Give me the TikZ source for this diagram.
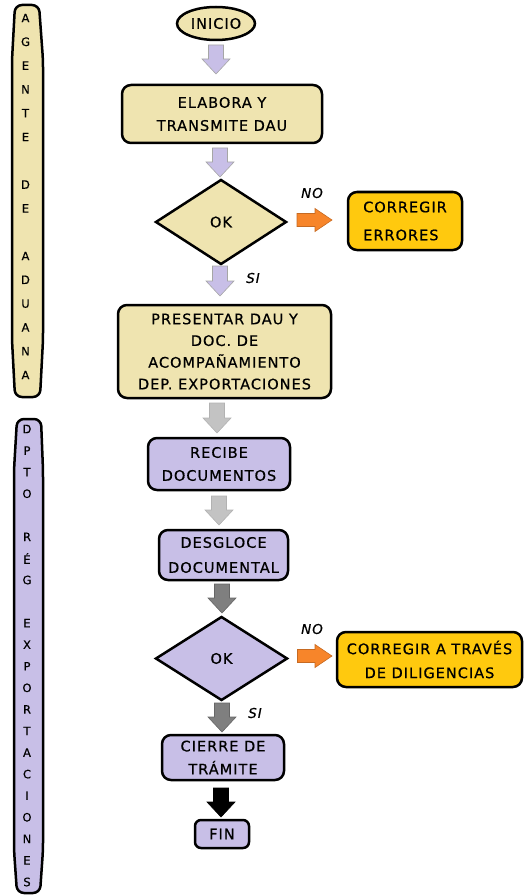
\documentclass[tikz,border=0pt]{standalone}
\usepackage{fontspec}
\setmainfont{DejaVu Sans}[LetterSpace=7, FakeBold=0.6]
\newfontfamily\lanefont{DejaVu Sans}[FakeBold=0.5]
\usetikzlibrary{shapes.geometric,calc}
\definecolor{khaki}{HTML}{EFE4B0}
\definecolor{lav}{HTML}{C8BFE7}
\definecolor{gold}{HTML}{FFC90E}
\definecolor{orng}{HTML}{F7852A}
\definecolor{lgray}{HTML}{C3C3C3}
\definecolor{dgray}{HTML}{7F7F7F}
\newcommand\varrow[3]{%
  \draw[#1] let \p1=#2, \p2=#3 in
    (\x1-7.5pt,\y1) -- (\x1+7.5pt,\y1) -- (\x1+7.5pt,\y2+15pt) -- (\x1+14pt,\y2+15pt)
    -- (\x1,\y2) -- (\x1-14pt,\y2+15pt) -- (\x1-7.5pt,\y2+15pt) -- cycle;}
\newcommand\harrow[3]{%
  \draw[#1] let \p1=#2, \p2=#3 in
    (\x1,\y1+6.5pt) -- (\x2-17pt,\y1+6.5pt) -- (\x2-17pt,\y1+11.5pt) -- (\x2,\y1)
    -- (\x2-17pt,\y1-11.5pt) -- (\x2-17pt,\y1-6.5pt) -- (\x1,\y1-6.5pt) -- cycle;}
\begin{document}
\begin{tikzpicture}[x=1pt,y=-1pt,
  every node/.style={inner sep=0pt, outer sep=0pt},
  txt/.style={font=\fontsize{14.5}{23}\selectfont},
  box/.style={txt, draw, line width=2.5pt, rounded corners=9pt, align=center},
  dia/.style={txt, draw, line width=2.5pt, diamond},
  lane/.style={draw, line width=2.5pt, rounded corners=7pt},
  lanetxt/.style={font=\lanefont\fontsize{11.5}{12}\selectfont},
  lbl/.style={font=\fontsize{13.5}{14}\selectfont\itshape},
  arrL/.style={fill=lav, draw=gray!70, line width=0.6pt},
  arrG/.style={fill=lgray, draw=gray!60, line width=0.6pt},
  arrD/.style={fill=dgray, draw=dgray!80!black, line width=0.6pt},
  arrB/.style={fill=black, draw=black, line width=0.6pt},
  arrO/.style={fill=orng, draw=orng!80!black, line width=0.6pt}]
\useasboundingbox (0,0) rectangle (524,896);
% lanes
\draw[lane, fill=khaki] (15,5) -- (39,5) -- (43,60) -- (43,340) -- (40,397) -- (15,397) -- (12,340) -- (12,60) -- cycle;
\foreach \l [count=\i from 0] in {A,G,E,N,T,E,,D,E,,A,D,U,A,N,A}
  \node[lanetxt] (la\i) at (25.5,18+\i*23.8) {\l};
\draw[lane, fill=lav] (17,419) -- (41,419) -- (43,470) -- (43,850) -- (40,893) -- (17,893) -- (14,850) -- (14,470) -- cycle;
\foreach \l [count=\i from 0] in {D,P,T,O,,R,É,G,,E,X,P,O,R,T,A,C,I,O,N,E,S}
  \node[lanetxt] (lb\i) at (27,429+\i*21.57) {\l};
% nodes
\node[txt, draw, line width=2.5pt, ellipse, fill=khaki, minimum width=78pt, minimum height=33pt] (ini) at (216,23.5) {INICIO};
\node[box, fill=khaki, minimum width=200pt, minimum height=58pt] (elab) at (222,114) {ELABORA Y\\TRANSMITE DAU};
\node[dia, fill=khaki, minimum width=130pt, minimum height=84pt] (d1) at (221,222) {OK};
\node[box, fill=gold, minimum width=114pt, minimum height=58pt, align=left, font=\fontsize{14.5}{28}\selectfont] (err1) at (405,221) {CORREGIR\\ERRORES};
\node[box, fill=khaki, minimum width=213pt, minimum height=93pt, font=\fontsize{14.5}{21.7}\selectfont] (pres) at (224.5,351.5) {PRESENTAR DAU Y\\DOC. DE\\ACOMPAÑAMIENTO\\DEP. EXPORTACIONES};
\node[box, fill=lav, minimum width=142pt, minimum height=52pt] (rec) at (219,464) {RECIBE\\DOCUMENTOS};
\node[box, fill=lav, minimum width=129pt, minimum height=50pt, font=\fontsize{14.5}{25}\selectfont] (des) at (223.5,555) {DESGLOCE\\DOCUMENTAL};
\node[dia, fill=lav, minimum width=131pt, minimum height=83pt] (d2) at (221.5,658.5) {OK};
\node[box, fill=gold, minimum width=185pt, minimum height=55pt, font=\fontsize{14.5}{24}\selectfont] (err2) at (429.5,659.5) {CORREGIR A TRAVÉS\\DE DILIGENCIAS};
\node[box, fill=lav, minimum width=122pt, minimum height=45pt] (cie) at (223,757.5) {CIERRE DE\\TRÁMITE};
\node[box, fill=lav, minimum width=54pt, minimum height=28pt, rounded corners=6pt] (fin) at (222,834) {FIN};
% labels
\node[lbl] (no1) at (312,193) {NO};
\node[lbl] (si1) at (253,278) {SI};
\node[lbl] (no2) at (312,629) {NO};
\node[lbl] (si2) at (255,713) {SI};
% arrows
\varrow{arrL}{($(ini.south)+(0,5)$)}{($(elab.north)+(0,-11)$)}
\varrow{arrL}{($(elab.south)+(-2,5)$)}{($(d1.north)+(0,-3)$)}
\varrow{arrL}{($(d1.south)+(-1,2)$)}{($(pres.north)+(0,-9)$)}
\varrow{arrG}{($(pres.south)+(-7.5,5)$)}{($(rec.north)+(0,-5)$)}
\varrow{arrG}{($(rec.south)+(0,6)$)}{($(des.north)+(0,-5)$)}
\varrow{arrD}{($(des.south)+(-1.5,4)$)}{($(d2.north)+(0,-4)$)}
\varrow{arrD}{($(d2.south)+(0.5,3)$)}{($(cie.north)+(0,-3)$)}
\varrow{arrB}{($(cie.south)+(-2,8)$)}{($(fin.north)+(0,-3)$)}
\harrow{arrO}{($(d1.east)+(11,-2)$)}{($(err1.west)+(-16,0)$)}
\harrow{arrO}{($(d2.east)+(10.5,-2.5)$)}{($(err2.west)+(-5,0)$)}
\end{tikzpicture}
\end{document}
